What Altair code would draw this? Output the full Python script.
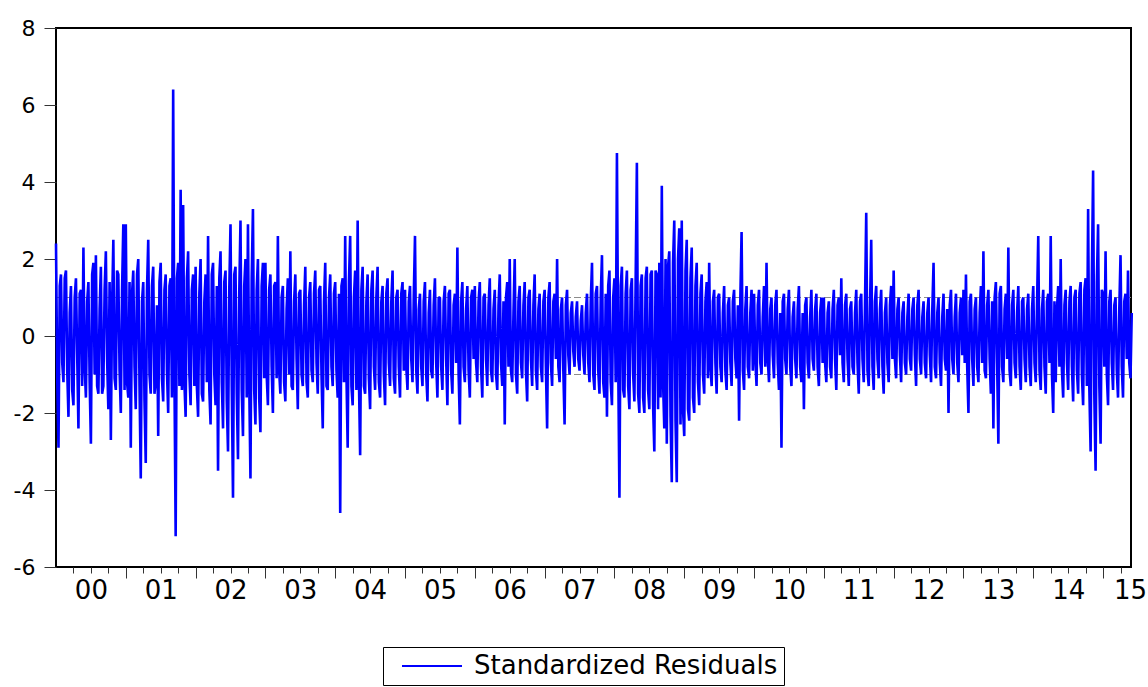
import altair as alt
import pandas as pd

# Standardized residuals.
# For every year: main readings (a) and the readings that fall between them (b).
y2000_a = [2.4, -2.9, 1.6, -1.2, 1.7, -2.1, 1.3, -1.8, 1.5, -2.4, 1.2, 2.3, -1.6, 1.4, -2.8, 1.9, 2.1, -1.5, 1.8, -1.3, 2.2, -1.9, -2.7, 2.5, -1.4, 1.6, -2.0, 2.9]
y2000_b = [-1.1, 1.3, -0.7, 1.5, -0.9, 0.6, -1.4, 1.0, -0.5, 1.1, -1.3, -0.8, 0.9, -1.2, 1.6, -1.0, -1.3, 0.7, -1.5, 1.2, -0.6, 1.4, 0.8, -1.1, 1.7, -0.9, 1.2, -1.4]
y2001_a = [2.9, -1.6, -2.9, 1.7, -1.9, 2.0, -3.7, 1.4, -3.3, 2.5, -1.5, 1.8, -1.2, -2.6, 1.9, -1.7, 1.6, -2.0, 1.5, 6.4, -5.2, 1.9, 3.8, 3.4, -2.1, 2.2, -1.8, 1.6]
y2001_b = [-1.2, 1.4, 1.1, -0.8, 1.6, -1.3, 0.9, -1.7, 1.2, -1.0, 1.3, -1.5, 0.8, 1.4, -1.1, 1.2, -0.9, 1.3, -1.6, -1.0, 1.5, -1.3, -1.4, -1.2, 1.5, -1.0, 1.2, -1.3]
y2002_a = [1.8, -2.1, 2.0, -1.7, 1.6, 2.6, -2.3, 1.9, -1.8, -3.5, 2.2, -2.4, 1.7, -3.0, 2.9, -4.2, 1.8, -3.2, 3.0, -2.6, 2.0, 2.9, -3.7, 3.3, -2.3, 2.0, -2.5, 1.9]
y2002_b = [-1.3, 1.1, -1.5, 0.9, -1.2, -1.4, 1.6, -1.0, 1.3, 1.5, -1.2, 1.4, -1.7, 1.2, -1.3, 1.6, -1.5, 1.1, -1.4, 1.3, -1.6, -1.2, 1.5, -1.4, 1.2, -1.6, 1.3, -1.1]
y2003_a = [1.9, -1.8, 1.6, -2.0, 1.4, 2.6, -1.5, 1.3, -1.7, 1.5, 2.2, -1.4, 1.6, -1.9, 1.2, -1.3, 1.8, -1.6, 1.4, -1.2, 1.7, -1.5, 1.3, -2.4, 1.9, -1.4, 1.6, -1.3]
y2003_b = [-1.0, 1.2, -0.8, 1.3, -1.1, -0.9, 1.0, -1.2, 0.7, -1.0, -1.3, 0.9, -0.6, 1.1, -1.0, 0.8, -1.2, 1.0, -0.9, 1.1, -0.7, 1.2, -1.0, 0.9, -1.3, 1.0, -0.8, 1.1]
y2004_a = [1.4, -1.6, -4.6, 1.5, 2.6, -2.9, 2.6, -1.8, 1.7, 3.0, -3.1, 1.8, -1.5, 1.6, -1.9, 1.7, -1.4, 1.8, -1.6, 1.3, -1.8, 1.5, -1.3, 1.7, -1.5, 1.2, -1.6, 1.4]
y2004_b = [-0.9, 1.1, 1.3, -1.2, -1.0, 1.4, -1.3, 1.0, -1.4, -1.1, 1.2, -1.3, 0.9, -1.1, 1.2, -0.8, 1.0, -1.2, 0.9, -1.0, 1.1, -0.7, 0.9, -1.1, 1.0, -0.8, 1.1, -0.9]
y2005_a = [1.2, -1.4, 1.3, -1.2, 2.6, -1.5, 1.1, -1.3, 1.4, -1.7, 1.2, -1.1, 1.5, -1.6, 1.0, -1.4, 1.3, -1.8, 1.2, -1.5, 1.1, 2.3, -2.3, 1.4, -1.2, 1.3, -1.6, 1.2]
y2005_b = [-0.8, 0.9, -0.6, 1.0, -0.9, 0.7, -0.8, 0.9, -1.0, 0.6, -0.9, 0.8, -0.7, 1.0, -0.8, 0.9, -0.6, 1.1, -0.9, 0.8, -0.7, -1.0, 0.9, -0.8, 0.7, -0.9, 1.0, -0.6]
y2006_a = [1.3, -1.2, 1.4, -1.6, 1.1, -1.3, 1.5, -1.2, 1.2, -1.4, 1.6, -1.3, -2.3, 1.4, 2.0, -1.2, 2.0, -1.5, 1.3, -1.1, 1.4, -1.7, 1.2, -1.3, 1.6, -1.4, 1.1, -1.2]
y2006_b = [-0.7, 0.9, -0.8, 1.0, -0.6, 0.8, -0.9, 0.7, -1.0, 0.8, -0.7, 0.9, 1.0, -0.8, -0.9, 0.6, -1.0, 0.9, -0.7, 0.8, -0.9, 1.0, -0.6, 0.8, -0.9, 0.7, -0.8, 0.9]
y2007_a = [1.2, -2.4, 1.4, -1.3, 1.1, 2.0, -1.2, 1.0, -2.3, 1.2, -1.0, 0.9, -0.8, 0.9, -0.9, 0.8, -1.0, 1.1, -1.2, 1.9, -1.4, 1.3, -1.5, 2.1, -1.6, -2.1, 1.7, -1.8]
y2007_b = [-0.8, 1.0, -0.7, 0.9, -0.6, -0.8, 0.7, -0.9, 0.8, -0.5, 0.6, -0.4, 0.5, -0.6, 0.4, -0.5, 0.6, -0.7, 0.9, -1.0, 1.1, -0.9, 1.0, -1.2, 1.1, 1.3, -1.2, 1.0]
y2008_a = [1.5, 4.75, -4.2, 1.8, -1.6, 1.7, -1.9, 1.5, -1.7, 4.5, -2.0, 1.6, -2.0, 1.8, -1.9, 1.7, -3.0, 1.6, 1.9, 3.9, -2.4, -2.8, 2.2, -3.8, 3.0, -3.8, 2.8, 3.0]
y2008_b = [-1.2, -0.6, 1.3, -1.4, 1.1, -1.3, 1.2, -1.0, 1.4, -1.5, 1.3, -1.6, 1.5, -1.4, 1.6, -1.8, 1.7, -1.9, -1.6, -1.2, 2.0, 1.8, -2.1, 1.9, -2.2, 2.0, -2.3, -1.9]
y2009_a = [-2.6, 2.5, -2.2, 2.3, -2.0, 1.9, -1.8, 1.6, -1.5, 1.4, 1.9, -1.3, 1.2, -1.5, 1.1, -1.2, 1.3, -1.4, 1.0, -1.3, 1.2, -1.1, -2.2, 2.7, -1.4, 1.3, -1.1, 1.2]
y2009_b = [1.7, -1.9, 1.5, -1.6, 1.3, -1.2, 1.1, -1.0, 0.9, -1.1, -0.8, 0.9, -0.7, 1.0, -0.8, 0.6, -0.9, 0.8, -0.7, 0.9, -0.6, 0.8, 1.0, -0.9, 0.7, -0.8, 0.6, -0.9]
y2010_a = [1.1, -1.3, 1.2, -1.0, 1.3, 1.9, -1.2, 1.0, -1.1, 1.2, -1.4, -2.9, 1.1, -1.0, 1.2, -1.3, 0.9, -1.1, 1.3, -1.2, -1.9, 1.0, -1.1, 1.2, -0.9, 1.1, -1.3, 1.0]
y2010_b = [-0.6, 0.8, -0.7, 0.5, -0.8, -0.6, 0.7, -0.5, 0.8, -0.7, 0.6, 0.9, -0.6, 0.7, -0.8, 0.5, -0.6, 0.7, -0.8, 0.6, 0.8, -0.7, 0.5, -0.6, 0.7, -0.8, 0.6, -0.7]
y2011_a = [1.0, -1.2, 0.9, -1.1, 1.2, -1.4, 1.0, 1.5, -1.2, 1.1, -1.3, 0.9, -1.0, 1.2, -1.5, 1.1, -1.2, 3.2, -1.3, 2.5, -1.4, 1.3, -1.1, 1.2, -1.5, 1.0, -1.2, 1.3]
y2011_b = [-0.7, 0.6, -0.8, 0.7, -0.6, 0.8, -0.5, -0.7, 0.8, -0.6, 0.7, -0.8, 0.6, -0.7, 0.9, -0.6, 0.8, -0.9, 0.7, -0.8, 0.9, -0.6, 0.7, -0.8, 0.6, -0.7, 0.8, -0.6]
y2012_a = [1.7, -1.1, 1.0, -1.2, 0.9, -1.0, 1.1, -0.9, 1.0, -1.3, 1.2, -1.0, 0.9, -1.1, 1.0, -1.2, 1.9, -1.1, 1.0, -1.3, 1.1, -0.9, -2.0, 1.2, -1.0, 1.1, -1.2, 1.0]
y2012_b = [-0.6, 0.7, -0.5, 0.6, -0.7, 0.5, -0.6, 0.7, -0.5, 0.8, -0.6, 0.5, -0.7, 0.6, -0.5, 0.7, -0.8, 0.6, -0.7, 0.5, -0.6, 0.7, 0.8, -0.6, 0.5, -0.7, 0.6, -0.5]
y2013_a = [1.2, 1.6, -2.0, 1.1, -1.3, 1.0, -1.2, 1.3, 2.2, -1.1, 1.2, -1.5, -2.4, 1.4, -2.8, 1.3, -1.2, 1.1, 2.3, -1.3, 1.2, -1.1, 1.3, -1.4, 1.0, -1.2, 1.1, -1.3]
y2013_b = [-0.7, -0.8, 0.9, -0.6, 0.7, -0.8, 0.6, -0.7, -0.9, 0.8, -0.6, 0.9, 1.0, -0.7, 1.1, -0.8, 0.7, -0.6, -0.9, 0.8, -0.7, 0.6, -0.8, 0.9, -0.6, 0.7, -0.8, 0.7]
y2014_a = [1.3, -1.2, 2.6, -1.4, 1.2, -1.5, 1.1, 2.6, -2.0, -1.2, 1.3, 2.0, -1.6, 1.2, -1.4, 1.3, -1.7, 1.2, -1.5, 1.4, -1.8, 1.5, 3.3, -3.0, 4.3, -3.5, 2.9, -2.8]
y2014_b = [-0.7, 0.8, -0.9, 0.7, -0.8, 0.9, -0.7, -1.0, 0.9, 0.7, -0.8, -0.9, 0.8, -0.7, 0.9, -0.8, 1.0, -0.9, 1.1, -1.0, 1.2, -1.3, -1.4, 1.5, -1.6, 1.4, -1.3, 1.2]
y2015_a = [1.1, 2.2, -1.8, 1.2, -1.4, 1.0, -1.6, 2.1, -1.6, 1.1, 1.7, -1.1]
y2015_b = [-0.8, -1.0, 0.9, -0.7, 0.8, -0.9, 0.7, -0.8, 0.9, -0.6, -0.7, 0.6]

years = list(range(2000, 2016))
yearly = [
    (y2000_a, y2000_b), (y2001_a, y2001_b), (y2002_a, y2002_b), (y2003_a, y2003_b),
    (y2004_a, y2004_b), (y2005_a, y2005_b), (y2006_a, y2006_b), (y2007_a, y2007_b),
    (y2008_a, y2008_b), (y2009_a, y2009_b), (y2010_a, y2010_b), (y2011_a, y2011_b),
    (y2012_a, y2012_b), (y2013_a, y2013_b), (y2014_a, y2014_b), (y2015_a, y2015_b),
]
readings_per_year = 56
series_name = "Standardized Residuals"
band_levels = [-1, 1]
y_ticks = [-6, -4, -2, 0, 2, 4, 6, 8]

rows = []
for yr, (a, b) in zip(years, yearly):
    assert len(a) == len(b)
    vals = [v for pair in zip(a, b) for v in pair]
    for i, v in enumerate(vals):
        rows.append({"t": yr + i / readings_per_year, "value": v, "series": series_name})
df = pd.DataFrame(rows)
band_df = pd.DataFrame({"value": band_levels})

x_end = 2015.4
x_tick_values = [y + q * 0.25 for y in years for q in range(4) if 2000 < y + q * 0.25 <= 2015.25]
x_tick_values.append(2015.385)  # where the partial-year label "15" sits

FONT = "DejaVu Sans"

x_enc = alt.X(
    "t:Q",
    scale=alt.Scale(domain=[2000, x_end], nice=False, zero=False),
    axis=alt.Axis(
        values=x_tick_values,
        labelExpr="(datum.value % 0.25 != 0 || datum.value % 1 == 0.5) ? slice('0' + (floor(datum.value) % 100), -2) : ''",
        tickSize={"condition": {"test": "datum.value % 1 == 0", "value": 11}, "value": 6},
        tickOpacity={"condition": {"test": "datum.value % 0.25 != 0", "value": 0}, "value": 1},
        tickColor="#333333",
        tickWidth=1,
        labelFont=FONT,
        labelFontSize=26,
        labelColor="black",
        labelPadding=4,
        labelOverlap=False,
        labelFlush=False,
        domain=False,
        grid=False,
        title=None,
    ),
)

y_enc = alt.Y(
    "value:Q",
    scale=alt.Scale(domain=[-6, 8], nice=False, zero=False),
    axis=alt.Axis(
        values=y_ticks,
        labelExpr="'' + datum.value",
        tickSize=12,
        tickColor="#333333",
        tickWidth=1,
        labelFont=FONT,
        labelFontSize=22,
        labelColor="black",
        labelPadding=9,
        labelOverlap=False,
        labelFlush=False,
        domain=False,
        grid=False,
        title=None,
    ),
)

bands = alt.Chart(band_df).mark_rule(color="#8c8c8c", strokeDash=[7, 3], strokeWidth=1).encode(
    y=alt.Y("value:Q")
)

line = alt.Chart(df).mark_line(
    strokeWidth=2.6, interpolate="linear", strokeJoin="bevel", strokeCap="butt"
).encode(
    x=x_enc,
    y=y_enc,
    color=alt.Color(
        "series:N",
        scale=alt.Scale(domain=[series_name], range=["#0000ff"]),
        legend=alt.Legend(
            title=None,
            orient="none",
            legendX=327,
            legendY=619,
            symbolType="M0,0H6",
            symbolSize=400,
            symbolStrokeWidth=2,
            symbolStrokeColor="#0000ff",
            labelOffset=59,
            labelFont=FONT,
            labelFontSize=26,
            labelColor="black",
            labelLimit=600,
            padding=6,
            strokeColor="black",
            fillColor="white",
        ),
    ),
)

chart = alt.layer(bands, line).properties(
    width=1075,
    height=539,
    autosize="none",
    padding={"left": 56, "top": 28, "right": 17, "bottom": 120},
    background="white",
).configure_view(stroke="black", strokeWidth=2)

chart.save("out.html", embed_options={"renderer": "svg", "actions": False})
